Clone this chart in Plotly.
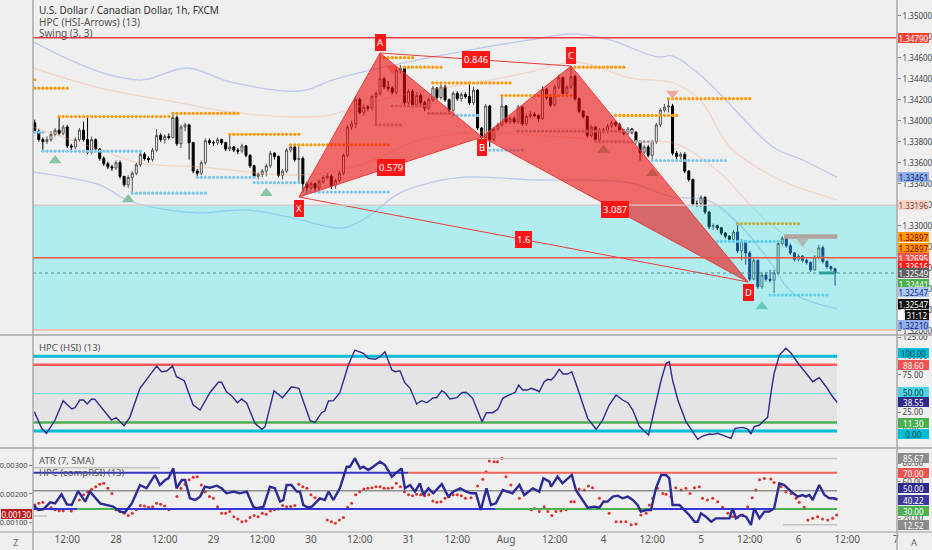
import plotly.graph_objects as go

FONT = "Noto Sans, Open Sans, sans-serif"
BG = "#efefef"

# ---------------- price data (1h bars, hour index, weekend removed) ----------------
bar_hours = list(range(4, 202))
first_open = 1.3398
closes = [
    1.3390, 1.3382, 1.3380, 1.3382, 1.3387, 1.3391, 1.3388, 1.3394, 1.3376, 1.3375,
    1.3382, 1.3391, 1.3382, 1.3370, 1.3382, 1.3373, 1.3364, 1.3359, 1.3356, 1.3355,
    1.3360, 1.3347, 1.3339, 1.3346, 1.3350, 1.3358, 1.3368, 1.3364, 1.3363, 1.3372,
    1.3386, 1.3382, 1.3385, 1.3384, 1.3403, 1.3378, 1.3394, 1.3396, 1.3379, 1.3352,
    1.3350, 1.3360, 1.3381, 1.3379, 1.3379, 1.3382, 1.3379, 1.3373, 1.3375, 1.3372,
    1.3371, 1.3376, 1.3367, 1.3357, 1.3347, 1.3349, 1.3352, 1.3357, 1.3369, 1.3366,
    1.3348, 1.3352, 1.3372, 1.3375, 1.3363, 1.3364, 1.3340, 1.3336, 1.3340, 1.3336,
    1.3342, 1.3346, 1.3347, 1.3338, 1.3343, 1.3350, 1.3367, 1.3394, 1.3397, 1.3420,
    1.3408, 1.3413, 1.3412, 1.3423, 1.3426, 1.3440, 1.3432, 1.3431, 1.3427, 1.3448,
    1.3450, 1.3417, 1.3428, 1.3415, 1.3424, 1.3417, 1.3412, 1.3420, 1.3431, 1.3422,
    1.3432, 1.3420, 1.3410, 1.3426, 1.3421, 1.3425, 1.3423, 1.3417, 1.3429, 1.3393,
    1.3384, 1.3414, 1.3382, 1.3392, 1.3396, 1.3414, 1.3399, 1.3402, 1.3399, 1.3413,
    1.3397, 1.3404, 1.3406, 1.3405, 1.3402, 1.3430, 1.3422, 1.3415, 1.3432, 1.3441,
    1.3426, 1.3432, 1.3442, 1.3421, 1.3409, 1.3404, 1.3386, 1.3394, 1.3382, 1.3391,
    1.3390, 1.3395, 1.3398, 1.3396, 1.3391, 1.3388, 1.3392, 1.3389, 1.3380, 1.3370,
    1.3375, 1.3367, 1.3380, 1.3396, 1.3410, 1.3413, 1.3414, 1.3369, 1.3366, 1.3368,
    1.3352, 1.3344, 1.3321, 1.3321, 1.3327, 1.3313, 1.3299, 1.3300, 1.3298, 1.3293,
    1.3290, 1.3287, 1.3294, 1.3276, 1.3285, 1.3274, 1.3249, 1.3267, 1.3242, 1.3253,
    1.3249, 1.3248, 1.3255, 1.3283, 1.3288, 1.3281, 1.3274, 1.3268, 1.3271, 1.3267,
    1.3265, 1.3258, 1.3270, 1.3279, 1.3266, 1.3261, 1.3259, 1.32549,
]
highs = [
    1.3401, 1.3392, 1.3384, 1.3385, 1.3390, 1.3393, 1.3404, 1.3396, 1.3396, 1.3378,
    1.3384, 1.3393, 1.3399, 1.3404, 1.3385, 1.3383, 1.3374, 1.3366, 1.3361, 1.3358,
    1.3362, 1.3362, 1.3346, 1.3348, 1.3352, 1.3360, 1.3371, 1.3370, 1.3366, 1.3374,
    1.3392, 1.3388, 1.3387, 1.3388, 1.3408, 1.3405, 1.3396, 1.3398, 1.3397, 1.3380,
    1.3354, 1.3362, 1.3383, 1.3383, 1.3381, 1.3384, 1.3383, 1.3380, 1.3388, 1.3376,
    1.3374, 1.3378, 1.3377, 1.3368, 1.3358, 1.3351, 1.3354, 1.3359, 1.3371, 1.3370,
    1.3367, 1.3354, 1.3374, 1.3377, 1.3376, 1.3377, 1.3366, 1.3342, 1.3342, 1.3341,
    1.3344, 1.3348, 1.3350, 1.3349, 1.3345, 1.3352, 1.3369, 1.3396, 1.3400, 1.3423,
    1.3422, 1.3416, 1.3415, 1.3425, 1.3428, 1.3463, 1.3442, 1.3438, 1.3433, 1.3450,
    1.3453, 1.3451, 1.3430, 1.3430, 1.3427, 1.3426, 1.3419, 1.3422, 1.3433, 1.3432,
    1.3435, 1.3434, 1.3421, 1.3428, 1.3428, 1.3427, 1.3427, 1.3436, 1.3432, 1.3430,
    1.3394, 1.3416, 1.3415, 1.3394, 1.3398, 1.3424, 1.3415, 1.3404, 1.3404, 1.3415,
    1.3414, 1.3406, 1.3409, 1.3408, 1.3406, 1.3433, 1.3431, 1.3423, 1.3434, 1.3444,
    1.3442, 1.3434, 1.3452, 1.3444, 1.3422, 1.3410, 1.3405, 1.3396, 1.3395, 1.3393,
    1.3393, 1.3397, 1.3400, 1.3400, 1.3398, 1.3392, 1.3394, 1.3393, 1.3390, 1.3381,
    1.3377, 1.3377, 1.3382, 1.3398, 1.3412, 1.3416, 1.3421, 1.3416, 1.3371, 1.3370,
    1.3370, 1.3353, 1.3345, 1.3324, 1.3329, 1.3328, 1.3314, 1.3302, 1.3301, 1.3299,
    1.3294, 1.3291, 1.3296, 1.3301, 1.3287, 1.3286, 1.3276, 1.3270, 1.3268, 1.3256,
    1.3256, 1.3258, 1.3258, 1.3285, 1.3290, 1.3290, 1.3283, 1.3275, 1.3273, 1.3272,
    1.3269, 1.3266, 1.3272, 1.3282, 1.3281, 1.3267, 1.3262, 1.3260,
]
lows = [
    1.3388, 1.3380, 1.3372, 1.3378, 1.3380, 1.3385, 1.3386, 1.3386, 1.3374, 1.3372,
    1.3373, 1.3380, 1.3380, 1.3368, 1.3368, 1.3370, 1.3362, 1.3357, 1.3354, 1.3352,
    1.3353, 1.3345, 1.3337, 1.3336, 1.3331, 1.3348, 1.3356, 1.3362, 1.3360, 1.3361,
    1.3370, 1.3380, 1.3378, 1.3382, 1.3383, 1.3376, 1.3374, 1.3390, 1.3363, 1.3350,
    1.3346, 1.3348, 1.3358, 1.3377, 1.3376, 1.3377, 1.3377, 1.3371, 1.3371, 1.3370,
    1.3368, 1.3369, 1.3365, 1.3355, 1.3345, 1.3344, 1.3346, 1.3347, 1.3355, 1.3363,
    1.3346, 1.3344, 1.3350, 1.3370, 1.3361, 1.3340, 1.3332, 1.3332, 1.3334, 1.3333,
    1.3334, 1.3340, 1.3344, 1.3335, 1.3335, 1.3341, 1.3348, 1.3365, 1.3391, 1.3393,
    1.3406, 1.3405, 1.3409, 1.3410, 1.3396, 1.3424, 1.3430, 1.3428, 1.3425, 1.3425,
    1.3445, 1.3414, 1.3415, 1.3413, 1.3413, 1.3414, 1.3409, 1.3410, 1.3418, 1.3420,
    1.3420, 1.3418, 1.3408, 1.3408, 1.3419, 1.3418, 1.3421, 1.3415, 1.3415, 1.3391,
    1.3381, 1.3383, 1.3375, 1.3380, 1.3390, 1.3394, 1.3397, 1.3397, 1.3397, 1.3397,
    1.3395, 1.3395, 1.3402, 1.3403, 1.3399, 1.3401, 1.3420, 1.3413, 1.3413, 1.3430,
    1.3424, 1.3424, 1.3430, 1.3419, 1.3407, 1.3402, 1.3384, 1.3384, 1.3380, 1.3380,
    1.3388, 1.3388, 1.3393, 1.3394, 1.3389, 1.3386, 1.3386, 1.3387, 1.3378, 1.3362,
    1.3368, 1.3365, 1.3363, 1.3378, 1.3394, 1.3408, 1.3408, 1.3367, 1.3363, 1.3362,
    1.3350, 1.3342, 1.3319, 1.3318, 1.3318, 1.3311, 1.3297, 1.3296, 1.3296, 1.3291,
    1.3288, 1.3285, 1.3286, 1.3274, 1.3267, 1.3263, 1.3247, 1.3248, 1.3240, 1.3240,
    1.3247, 1.3246, 1.3236, 1.3253, 1.3281, 1.3279, 1.3272, 1.3266, 1.3266, 1.3265,
    1.3263, 1.3256, 1.3257, 1.3268, 1.3264, 1.3259, 1.3257, 1.3243,
]
opens = [first_open] + closes[:-1]
highs = [max(h, o, c) for h, o, c in zip(highs, opens, closes)]
lows = [min(l, o, c) for l, o, c in zip(lows, opens, closes)]

# bands (read at sample hours)
band_up_h = [3.6, 12.7, 22.5, 30.6, 41.5, 52.1, 69.3, 77.4, 89.0, 102.0, 113.6, 125.9, 136.5, 145.6, 157.2, 161.1, 167.8, 173.4, 185.7, 193.1, 201.5]
band_up_p = [1.34750, 1.34578, 1.34435, 1.34388, 1.34502, 1.34369, 1.34283, 1.34388, 1.34502, 1.34607, 1.34692, 1.34769, 1.34826, 1.34769, 1.34607, 1.34616, 1.34435, 1.34226, 1.33750, 1.33626, 1.33461]
band_lo_h = [3.6, 20.1, 26.7, 36.6, 44.7, 56.2, 67.6, 79.9, 85.8, 93.9, 104.5, 111.9, 126.6, 136.5, 150.5, 161.1, 169.5, 177.6, 185.0, 190.6, 201.5]
band_lo_p = [1.33511, 1.33387, 1.33245, 1.33150, 1.33121, 1.33150, 1.33073, 1.32978, 1.33083, 1.33312, 1.33436, 1.33465, 1.33436, 1.33436, 1.33407, 1.33273, 1.33245, 1.33007, 1.32654, 1.32359, 1.32210]
inner_up_h = [3.6, 20.1, 39.8, 52.1, 69.3, 76.7, 89.0, 101.3, 113.6, 125.9, 137.5, 150.5, 161.1, 167.8, 175.1, 185.0, 191.6, 201.5]
inner_up_p = [1.34502, 1.34311, 1.34169, 1.34083, 1.34035, 1.34054, 1.34197, 1.34292, 1.34369, 1.34464, 1.34559, 1.34407, 1.34359, 1.34197, 1.33750, 1.33483, 1.33369, 1.33245]
inner_lo_h = [3.6, 20.1, 29.9, 44.7, 69.3, 84.1, 98.8, 113.6, 125.9, 138.2, 150.5, 161.1, 172.7, 182.5, 192.4, 201.5]
inner_lo_p = [1.33940, 1.33721, 1.33597, 1.33559, 1.33483, 1.33578, 1.33816, 1.33892, 1.33864, 1.33835, 1.33788, 1.33788, 1.33502, 1.33102, 1.32817, 1.32654]

# swing levels
res_start = [4, 10, 38, 52, 67, 90, 95, 102, 119, 137, 147, 160, 177]
res_end = [12, 37, 54, 69, 91, 97, 104, 121, 136, 149, 162, 180, 192]
res_price = [1.3431, 1.3404, 1.3407, 1.3387, 1.3377, 1.3460, 1.3451, 1.3436, 1.3424, 1.3451, 1.3405, 1.3421, 1.3302]
sup_start = [4, 6, 28, 44, 58, 71, 107, 115, 156, 172, 185]
sup_end = [6, 30, 46, 58, 69, 91, 113, 124, 174, 187, 199]
sup_price = [1.3389, 1.3371, 1.3331, 1.3346, 1.3341, 1.3332, 1.3405, 1.3372, 1.3362, 1.3285, 1.3234]
mid_start = [88, 92, 101, 123, 142]
mid_end = [94, 101, 107, 151, 156]
mid_price = [1.3396, 1.3414, 1.3407, 1.3390, 1.3380]
last_res = (189, 201, 1.32897)

tri_up_h = [9, 27, 61, 144, 156, 183]
tri_up_p = [1.3362, 1.3325, 1.3331, 1.3372, 1.3350, 1.3223]
tri_dn_h = [92, 161, 193]
tri_dn_p = [1.3450, 1.3426, 1.3285]

# harmonic pattern
patt_names = ["X", "A", "B", "C", "D"]
patt_h = [69.05, 89.0, 114.1, 136.0, 179.6]
patt_p = [1.33273, 1.34645, 1.33845, 1.34521, 1.32464]
ratio_text = {"XB": "0.579", "AC": "0.846", "BD": "3.087", "XD": "1.6"}

zone_top, zone_bottom = 1.33196, 1.32007
line_red_top, line_red_mid, last_price = 1.34790, 1.32695, 1.32549

# ---------------- HSI ----------------
hsi_hours = [3.9, 5.7, 6.9, 9.0, 11.0, 13.1, 13.9, 15.1, 16.0, 16.9, 18.0, 18.8, 22.9, 24.0, 26.0, 27.4, 29.9, 31.6, 32.8, 34.0,
             35.2, 36.5, 37.9, 38.9, 40.8, 43.0, 44.7, 47.1, 49.2, 50.0, 51.2, 52.5, 53.9, 54.9, 56.2, 58.2, 59.9, 60.7, 62.9, 65.0,
             67.2, 69.0, 71.8, 73.0, 74.6, 75.4, 76.3, 77.5, 79.1, 81.2, 82.8, 84.9, 86.1, 87.8, 89.0, 90.2, 91.9, 92.7, 93.9, 95.1,
             96.4, 98.0, 99.2, 100.5, 102.1, 102.9, 104.2, 105.0, 106.2, 107.9, 109.1, 110.2,
             111.8, 114.1, 115.2, 116.7, 118.0, 119.2, 120.4, 121.6, 122.3, 123.1, 124.1, 125.3, 126.2, 127.4, 128.2, 129.4, 130.3, 131.1,
             131.9, 133.1, 134.1, 135.2, 136.2, 137.2, 138.5, 140.1, 142.2, 143.8, 145.4, 147.1, 148.7, 150.0, 151.2, 152.8, 154.0, 155.1,
             156.5, 158.2, 159.4, 160.2, 161.0, 162.3, 164.3, 166.0, 167.2, 168.4, 170.1, 170.9, 172.1, 173.3, 175.4, 176.4, 178.3, 179.5,
             180.3, 181.1, 182.4, 183.2, 184.4, 185.2, 186.0, 187.3, 188.9, 190.2, 192.2, 193.8, 195.5, 197.1, 198.8, 200.4, 201.5]
hsi_values = [25.8, 3.6, -3.1, 14.7, 40.6, 29.5, 31.2, 41.5, 41.5, 36.1, 42.8, 42.4, 14.7, 17.8, 7.1, 18.3, 57.2, 69.2, 77.2, 87.0,
              79.4, 80.3, 87.0, 72.7, 67.3, 34.8, 28.1, 51.3, 65.2, 65.2, 52.6, 46.9, 37.9, 42.8, 37.1, 10.3, 2.3, 5.8, 54.0, 44.6,
              59.3, 57.2, 13.8, 11.6, 24.5, 26.8, 40.2, 40.6, 51.3, 88.4, 108.4, 104.0, 97.3, 96.0, 99.5, 106.2, 81.7, 79.4, 80.7, 64.7,
              57.2, 36.1, 40.6, 37.9, 44.6, 44.6, 54.0, 51.3, 42.8, 44.6, 51.3, 51.8,
              43.8, 12.5, 24.5, 24.5, 29.0, 43.8, 47.3, 50.5, 51.8, 61.6, 54.9, 54.9, 57.2, 54.9, 52.6, 66.0, 69.2, 68.3,
              72.7, 82.6, 76.3, 76.3, 79.4, 63.9, 43.8, 17.0, 2.3, 14.7, 34.8, 48.2, 41.5, 37.9, 28.1, 6.7, 0.0, -5.4,
              28.1, 68.3, 90.6, 92.8, 68.3, 41.5, 12.5, -0.9, -11.2, -6.7, -4.0, -4.5, -3.1, -5.4, -9.8, 3.6, 4.9, 2.7,
              -4.0, 5.8, 8.0, 12.5, 18.3, 50.5, 77.2, 101.7, 110.7, 104.0, 88.4, 78.0, 66.0, 71.4, 59.3, 45.9, 38.55]
hsi_levels = {"top": 100.0, "ob": 88.6, "mid": 50.0, "os": 11.3, "bottom": 0.0}

# ---------------- compRSI + ATR ----------------
rsi_hours = [3.65, 4.9, 6.1, 7.8, 9.0, 10.6, 11.9, 13.1, 14.7, 16.4, 17.6, 20.1, 23.3, 25.0, 26.2, 27.9, 29.9, 31.5, 33.6, 34.8,
             36.1, 36.9, 38.1, 38.9, 40.2, 41.0, 42.2, 43.5, 44.7, 45.9, 47.1, 48.8, 50.0, 51.2, 52.9, 54.5, 56.2, 57.8, 58.6, 60.3,
             61.9, 63.1, 64.4, 65.2, 66.0, 67.2, 68.5, 69.3, 70.1, 71.3, 72.2, 74.2, 75.4, 76.3, 77.5, 79.1, 80.8, 81.6, 82.8, 84.1,
             84.9, 86.1, 87.3, 89.0, 90.2, 91.9, 93.1, 94.3, 95.1, 96.4, 97.6, 98.8, 99.7, 100.9, 102.1, 104.2, 105.8, 107.0, 108.7, 110.2,
             111.4, 112.6, 113.8, 115.2, 116.3, 117.5, 119.2, 120.4, 121.6, 123.3, 124.5, 126.6, 128.2, 129.2, 130.7, 131.1, 132.7, 133.9, 136.2, 137.2,
             138.5, 140.1, 141.7, 143.0, 144.0, 145.0, 146.3, 147.5, 148.7, 150.0, 151.2, 152.4, 153.2, 154.5, 155.7, 156.9, 158.2, 159.4, 160.2, 161.0,
             162.7, 163.9, 165.1, 166.4, 167.2, 168.0, 169.2, 170.5, 171.7, 173.3, 175.0, 175.8, 176.6, 177.8, 179.1, 180.3, 181.1, 182.4, 183.6, 184.8,
             186.0, 187.3, 188.5, 190.2, 191.8, 193.0, 193.8, 194.7, 195.5, 197.1, 198.4, 199.6, 200.8, 201.6]
rsi_values = [34.4, 28.9, 29.6, 37.3, 36.2, 46.2, 35.1, 34.4, 49.8, 38.1, 49.1, 36.2, 32.6, 27.1, 26.3, 36.2, 56.4, 52.8, 67.5, 56.4,
              61.9, 63.8, 74.8, 52.8, 61.9, 61.9, 41.8, 39.9, 43.6, 54.6, 53.5, 55.7, 52.8, 47.3, 49.1, 47.3, 49.1, 32.6, 30.7, 32.6,
              54.6, 52.8, 38.1, 39.9, 56.4, 56.4, 49.1, 49.1, 34.4, 31.5, 32.6, 41.8, 39.9, 49.1, 39.9, 52.8, 76.6, 76.6, 85.8, 74.8,
              76.6, 73.0, 76.6, 82.2, 78.5, 65.6, 70.4, 74.8, 52.8, 56.4, 49.1, 58.3, 45.4, 52.8, 47.3, 57.5, 43.6, 49.1, 52.8, 49.1,
              47.3, 47.3, 28.9, 52.8, 34.4, 36.2, 50.9, 49.1, 47.3, 56.4, 45.4, 52.8, 49.1, 63.8, 60.1, 54.6, 65.6, 58.3, 67.5, 50.9,
              41.8, 31.5, 32.6, 31.5, 38.1, 38.1, 43.6, 44.7, 41.8, 43.6, 39.9, 34.4, 27.1, 28.9, 28.9, 52.8, 67.5, 67.5, 63.8, 34.4,
              34.4, 28.9, 23.4, 16.0, 16.0, 25.2, 21.5, 16.0, 19.7, 19.7, 19.7, 30.7, 19.7, 23.4, 21.5, 12.4, 30.7, 19.7, 27.1, 27.1,
              30.7, 58.3, 56.4, 49.1, 43.6, 45.4, 43.6, 45.4, 39.9, 56.4, 45.4, 41.8, 41.8, 40.22]
atr_hours = [4, 5, 6, 8, 9, 10, 11, 13,
             15, 16, 17, 18, 19, 20, 21, 22, 23,
             24, 25, 26, 27, 28,
             29, 30, 31, 32, 33,
             34, 35, 36, 37,
             39, 40, 41, 42, 43, 44,
             45, 46, 47, 48, 49,
             50, 51, 52, 53, 54, 55, 56,
             57, 58, 59, 60, 61, 62, 63, 64,
             65, 66, 67, 68,
             69, 70, 71, 72, 73, 74,
             76, 77, 78, 79, 80,
             81, 82, 83, 84, 85, 86, 87, 88,
             89, 90, 91, 92, 93, 94,
             95, 96, 97, 98, 99, 100, 101,
             102, 103, 104, 105, 106, 107, 108, 109, 110,
             111.4, 113.0, 114.3, 115.1, 115.9, 117.1, 117.9, 119.0, 120.0, 121.2,
             123.3, 126.2, 127.0, 128.2, 129.4, 130.3, 131.3, 132.3, 133.5, 134.8,
             136.0, 136.8, 138.0, 139.3, 140.3, 141.3, 143.0, 144.2, 145.4, 147.1,
             148.3, 149.5, 150.8, 152.0, 153.2, 154.5, 155.3, 156.1, 157.3, 158.6,
             159.4, 160.6, 161.8, 163.1, 164.3, 165.3, 166.4, 167.6, 168.4, 169.6,
             170.9, 172.1, 173.3, 174.6, 175.8, 177.0, 178.3, 179.5, 180.6, 181.5,
             182.4, 183.6, 185.2, 186.0, 187.7, 188.9, 190.2, 191.4, 192.2, 193.4,
             194.3, 195.5, 196.7, 197.9, 199.2, 200.4, 201.4]
atr_values = [.00161, .00167, .00171, .00152, .00144, .00141, .00141, .00140,
              .00179, .00197, .00208, .00217, .00226, .00234, .00238, .00220, .00202,
              .00144, .00138, .00132, .00124, .00132,
              .00144, .00159, .00158, .00153, .00155,
              .00167, .00164, .00158, .00144,
              .00191, .00220, .00234, .00250, .00259, .00261,
              .00232, .00208, .00191, .00185, .00155,
              .00132, .00132, .00138, .00120, .00112, .00102, .00105,
              .00117, .00124, .00120, .00132, .00128, .00140, .00144, .00147,
              .00159, .00155, .00156, .00159,
              .00234, .00226, .00220, .00197, .00187, .00182,
              .00108, .00102, .00097, .00108, .00117,
              .00153, .00167, .00197, .00208, .00218, .00220, .00222, .00226,
              .00226, .00220, .00220, .00222, .00238, .00226,
              .00208, .00197, .00194, .00199, .00197, .00194, .00197,
              .00175, .00171, .00173, .00185, .00191, .00197, .00197, .00194, .00185,
              .00187, .00228, .00252, .00279, .00317, .00314, .00314, .00326, .00261, .00232,
              .00185, .00144, .00149, .00138, .00155, .00138, .00124, .00138, .00141, .00144,
              .00173, .00173, .00218, .00214, .00228, .00222, .00185, .00173, .00132, .00102,
              .00102, .00102, .00091, .00094, .00126, .00132, .00161, .00185, .00220, .00202,
              .00199, .00191, .00222, .00214, .00220, .00202, .00222, .00226, .00185, .00179,
              .00185, .00173, .00153, .00132, .00120, .00117, .00126, .00155, .00187, .00214,
              .00250, .00255, .00253, .00241, .00226, .00208, .00202, .00185, .00171, .00153,
              .00108, .00114, .00120, .00112, .00108, .00114, .00126]
rsi_levels = {"hi_band": 85.67, "ob": 70.0, "mid": 50.0, "os": 30.0, "lo_band": 12.52}

tick_hours = [12, 24, 36, 48, 60, 72, 84, 96, 108, 120, 132, 144, 156, 168, 180, 192, 204, 216]
tick_text = ["12:00", "28", "12:00", "29", "12:00", "30", "12:00", "31", "12:00", "Aug",
             "12:00", "4", "12:00", "5", "12:00", "6", "12:00", "7"]

# ---------------- layout constants ----------------
X_MIN, X_MAX = 3.57, 216.25
LINE_END = 201.5

fig = go.Figure()

def hline(x0, x1, y, color, width, yaxis="y", dash="solid"):
    fig.add_trace(go.Scatter(x=[x0, x1], y=[y, y], mode="lines", yaxis=yaxis,
                             line=dict(color=color, width=width, dash=dash),
                             hoverinfo="skip", showlegend=False))

# bands
for hx, py, col in [(band_up_h, band_up_p, "rgba(120,140,235,0.40)"),
                    (band_lo_h, band_lo_p, "rgba(120,140,235,0.40)"),
                    (inner_up_h, inner_up_p, "rgba(250,170,130,0.35)"),
                    (inner_lo_h, inner_lo_p, "rgba(250,170,130,0.35)")]:
    fig.add_trace(go.Scatter(x=hx, y=py, mode="lines", line=dict(color=col, width=1.3, shape="spline"),
                             hoverinfo="skip", showlegend=False))

# candles
split = bar_hours.index(177)
for sl, dec_col in [(slice(0, split), "#000000"), (slice(split, None), "#1c1c6e")]:
    fig.add_trace(go.Candlestick(
        x=bar_hours[sl], open=opens[sl], high=highs[sl], low=lows[sl], close=closes[sl],
        increasing=dict(line=dict(color="#505050", width=1), fillcolor="#ffffff"),
        decreasing=dict(line=dict(color=dec_col, width=1), fillcolor=dec_col),
        whiskerwidth=0, showlegend=False, hoverinfo="skip"))

# swing dotted levels
def dotted(starts, ends, prices, color, size=3.2, symbol="circle"):
    xs, ys = [], []
    for s, e, p in zip(starts, ends, prices):
        xs += list(range(s, e + 1)) + [None]
        ys += [p] * (e - s + 1) + [None]
    fig.add_trace(go.Scatter(x=xs, y=ys, mode="markers",
                             marker=dict(color=color, size=size, symbol=symbol, line=dict(width=0)),
                             hoverinfo="skip", showlegend=False))

dotted(res_start, res_end, res_price, "#ff9800")
dotted([4], [4], [1.3439], "#ff9800")
dotted(sup_start, sup_end, sup_price, "#7cc6ee")
dotted(mid_start, mid_end, mid_price, "#a9a9a9")
dotted([last_res[0]], [last_res[1]], [last_res[2]], "#f28b82", size=4.5, symbol="square")

# triangles
fig.add_trace(go.Scatter(x=tri_up_h, y=tri_up_p, mode="markers",
                         marker=dict(symbol="triangle-up", size=11, color="#86c4a2", line=dict(width=0)),
                         hoverinfo="skip", showlegend=False))
fig.add_trace(go.Scatter(x=tri_dn_h, y=tri_dn_p, mode="markers",
                         marker=dict(symbol="triangle-down", size=11, color="#f4a79e", line=dict(width=0)),
                         hoverinfo="skip", showlegend=False))

# cyan zone
fig.add_trace(go.Scatter(x=[X_MIN, X_MAX, X_MAX, X_MIN, X_MIN],
                         y=[zone_top, zone_top, zone_bottom, zone_bottom, zone_top],
                         mode="lines", fill="toself", fillcolor="rgba(0,232,238,0.26)",
                         line=dict(width=0), hoverinfo="skip", showlegend=False))

# harmonic pattern
P = {n: (h, p) for n, h, p in zip(patt_names, patt_h, patt_p)}
RED_FILL = "rgba(240,8,8,0.58)"
RED_LINE = "#f03a3a"
for tri in (("X", "A", "B"), ("B", "C", "D")):
    pts = [P[t] for t in tri] + [P[tri[0]]]
    fig.add_trace(go.Scatter(x=[q[0] for q in pts], y=[q[1] for q in pts], mode="lines",
                             fill="toself", fillcolor=RED_FILL, line=dict(color=RED_LINE, width=1),
                             hoverinfo="skip", showlegend=False))
for a, b in (("A", "C"), ("X", "D")):
    fig.add_trace(go.Scatter(x=[P[a][0], P[b][0]], y=[P[a][1], P[b][1]], mode="lines",
                             line=dict(color=RED_LINE, width=1), hoverinfo="skip", showlegend=False))

# last price teal stub
hline(197, 201, 1.3255, "#26a69a", 3)

# ---------------- HSI pane ----------------
fig.add_trace(go.Scatter(x=[X_MIN, LINE_END, LINE_END, X_MIN, X_MIN],
                         y=[hsi_levels["os"], hsi_levels["os"], hsi_levels["ob"], hsi_levels["ob"], hsi_levels["os"]],
                         yaxis="y2", mode="lines", fill="toself", fillcolor="rgba(0,0,0,0.045)",
                         line=dict(width=0), hoverinfo="skip", showlegend=False))
hline(X_MIN, LINE_END, hsi_levels["mid"], "#6fd3e6", 1, "y2")
hline(X_MIN, LINE_END, hsi_levels["top"], "#00bcd4", 3, "y2")
hline(X_MIN, LINE_END, hsi_levels["bottom"], "#00bcd4", 3, "y2")
hline(X_MIN, LINE_END, hsi_levels["ob"], "#ff5a5a", 2.5, "y2")
hline(X_MIN, LINE_END, hsi_levels["os"], "#4caf50", 2.5, "y2")
fig.add_trace(go.Scatter(x=hsi_hours, y=hsi_values, yaxis="y2", mode="lines",
                         line=dict(color="#2e2a8c", width=1.4), hoverinfo="skip", showlegend=False))

# ---------------- ATR / compRSI pane ----------------
fig.add_trace(go.Scatter(x=atr_hours, y=atr_values, yaxis="y3", mode="markers",
                         marker=dict(color="#e0302a", size=3), hoverinfo="skip", showlegend=False))
hline(X_MIN, 34.8, 75.5, "#c4c4c4", 1.5, "y4")
hline(X_MIN, 7, 22.3, "#c4c4c4", 1.5, "y4")
hline(93.9, LINE_END, rsi_levels["hi_band"], "#c4c4c4", 1.5, "y4")
hline(188.2, LINE_END, rsi_levels["lo_band"], "#c4c4c4", 1.5, "y4")
hline(X_MIN, LINE_END, rsi_levels["mid"], "#606060", 1, "y4")
hline(X_MIN, 95.9, rsi_levels["ob"], "#3535c8", 2, "y4")
hline(95.9, LINE_END, rsi_levels["ob"], "#f26060", 2, "y4")
for x0, x1, col in [(X_MIN, 14.4, "#3535d8"), (14.4, 23.8, "#4caf50"), (23.8, 117.5, "#3535d8"),
                    (117.5, 156.2, "#4caf50"), (156.2, 186.0, "#3535d8"), (186.0, LINE_END, "#4caf50")]:
    hline(x0, x1, rsi_levels["os"], col, 1.8, "y4")
fig.add_trace(go.Scatter(x=rsi_hours, y=rsi_values, yaxis="y4", mode="lines",
                         line=dict(color="#2b2a96", width=2.4), hoverinfo="skip", showlegend=False))

# ---------------- annotations ----------------
ann = []
def txt(x, y, text, color="#555", size=10, xref="paper", yref="paper", xanchor="left", **kw):
    ann.append(dict(x=x, y=y, xref=xref, yref=yref, text=text, showarrow=False, xanchor=xanchor,
                    yanchor="middle", font=dict(family=FONT, size=size, color=color), **kw))

txt(0.0046, 1 - 10 / 532, "U.S. Dollar / Canadian Dollar, 1h, FXCM", color="#333", size=10)
txt(0.0046, 1 - 22 / 532, "HPC (HSI-Arrows) (13)", size=10)
txt(0.0046, 1 - 33 / 532, "Swing (3, 3)", size=10)
txt(0.0046, 1 - 347 / 532, "HPC (HSI) (13)", size=9.5)
txt(0.0046, 1 - 460 / 532, "ATR (7, SMA)", size=9.5)
txt(0.0046, 1 - 472 / 532, "HPC (compRSI) (13)", size=9.5)
txt(-0.0197, -10 / 532, "Z", xanchor="center", size=9.5, color="#666")
txt(1.0208, -10 / 532, "A", xanchor="center", size=9.5, color="#666")

def tag(yref, y, text, bg, fg, yshift=0, xshift=1, width=31, left=False):
    ann.append(dict(xref="paper", x=0 if left else 1, xanchor="right" if left else "left",
                    xshift=-1 if left else xshift, yref=yref, y=y, yshift=yshift, text=text,
                    showarrow=False, bgcolor=bg, borderpad=0, borderwidth=0, width=width, height=10,
                    align="center", valign="middle", font=dict(family=FONT, size=8, color=fg)))

tag("y", line_red_top, "1.34790", "#f44336", "#ffffff")
tag("y", band_up_p[-1], "1.33461", "#8fb0ea", "#1a237e")
tag("y", zone_top, "1.33196", "#fbd3c6", "#6d4c41")
tag("y", last_res[2], "1.32897", "#ff9800", "#7f0000")
tag("y", last_res[2], "1.32897", "#ff9800", "#7f0000", yshift=-11)
tag("y", line_red_mid, "1.32695", "#ef5350", "#ffffff")
tag("y", 1.32616, "1.32616", "#ff1a1a", "#ffffff")
tag("y", last_price, "1.32549", "#5d5d5d", "#ffffff")
tag("y", 1.32441, "1.32441", "#4caf50", "#ffffff")
tag("y", 1.32547, "1.32547", "#a9c7f3", "#1a237e", yshift=-19)
tag("y", 1.32547, "1.32547", "#111111", "#ffffff", yshift=-31)
tag("y", 1.32547, " ", "#ffffff", "#ffffff", yshift=-42, width=5)
tag("y", 1.32547, "31:12", "#111111", "#ffffff", yshift=-42, xshift=8, width=24)
tag("y", band_lo_p[-1], "1.32210", "#8fb0ea", "#1a237e", yshift=-16)

tag("y2", hsi_levels["top"], "100.00", "#00bcd4", "#073b4c", yshift=3)
tag("y2", hsi_levels["ob"], "88.60", "#ef5350", "#ffffff")
tag("y2", hsi_levels["mid"], "50.00", "#4dd0e1", "#073b4c", yshift=2)
tag("y2", hsi_values[-1], "38.55", "#2e2a8c", "#ffffff")
tag("y2", hsi_levels["os"], "11.30", "#4caf50", "#ffffff")
tag("y2", hsi_levels["bottom"], "0.00", "#00bcd4", "#073b4c", yshift=-3)

tag("y4", rsi_levels["hi_band"], "85.67", "#8c8c8c", "#ffffff")
tag("y4", rsi_levels["ob"], "70.00", "#ef5350", "#ffffff")
tag("y4", rsi_levels["mid"], "50.00", "#2e2a8c", "#ffffff", yshift=3)
tag("y4", rsi_values[-1], "40.22", "#3a3a9a", "#ffffff")
tag("y4", rsi_levels["os"], "30.00", "#4caf50", "#ffffff", yshift=-2)
tag("y4", rsi_levels["lo_band"], "12.52", "#8c8c8c", "#ffffff")
tag("y3", 0.0013, "0.00130", "#b71c1c", "#ffffff", left=True)

# pattern labels
def red_box(x, y, text, yshift=0):
    ann.append(dict(x=x, y=y, xref="x", yref="y", text=text, showarrow=False, yshift=yshift,
                    bgcolor="#ff1616", borderpad=2, borderwidth=0,
                    font=dict(family=FONT, size=9.5, color="#ffffff")))

for n in patt_names:
    h, p = P[n]
    red_box(h, p, n, yshift=10 if n in ("A", "C") else -11)
for key, label in ratio_text.items():
    a, b = P[key[0]], P[key[1]]
    red_box((a[0] + b[0]) / 2, (a[1] + b[1]) / 2, label)

# ---------------- shapes ----------------
shapes = []
def pline(x0, y0, x1, y1, color, width, xref="paper", yref="paper", dash="solid"):
    shapes.append(dict(type="line", x0=x0, y0=y0, x1=x1, y1=y1, xref=xref, yref=yref,
                       line=dict(color=color, width=width, dash=dash), layer="above"))

pline(0, line_red_top, 1, line_red_top, "#f23645", 1.6, yref="y")
pline(0, line_red_mid, 1, line_red_mid, "#ef5350", 1.6, yref="y")
pline(0, last_price, 1, last_price, "#4f8a8a", 1, yref="y", dash="dot")
pline(0, zone_top, 1, zone_top, "#dcc4c4", 1.2, yref="y")
pline(0, zone_bottom, 1, zone_bottom, "#f0a898", 1.2, yref="y")
for py in (335, 448):
    pline(-0.04, 1 - py / 532, 1.041, 1 - py / 532, "#b8b8b8", 2)
pline(-0.04, 0, 1.041, 0, "#b8b8b8", 1.5)
pline(0, -0.04, 0, 1, "#a8a8a8", 1.5)
pline(1, -0.04, 1, 1, "#a8a8a8", 1.5)

axis_font = dict(family=FONT, size=8, color="#444")
fig.update_layout(
    width=932, height=550, margin=dict(l=33, r=35, t=0, b=18, autoexpand=False),
    paper_bgcolor=BG, plot_bgcolor=BG, showlegend=False,
    font=dict(family=FONT),
    xaxis=dict(domain=[0, 1], anchor="y3", range=[X_MIN, X_MAX], tickvals=tick_hours, ticktext=tick_text,
               showgrid=False, zeroline=False, showline=False, ticks="", automargin=False,
               tickfont=dict(family=FONT, size=10, color="#555"), rangeslider=dict(visible=False)),
    yaxis=dict(domain=[1 - 334 / 532, 1], range=[1.319686, 1.351495], side="right", anchor="x",
               tickvals=[1.320 + 0.002 * i for i in range(16)], tickformat=".5f", automargin=False,
               ticks="outside", ticklen=3, tickcolor="#888", tickfont=axis_font,
               showgrid=False, zeroline=False, showline=False),
    yaxis2=dict(domain=[1 - 447 / 532, 1 - 336 / 532], range=[-21.4, 127.2], side="right", anchor="x",
                tickvals=[0, 25, 50, 75, 100, 125], tickformat=".2f", automargin=False,
                ticks="outside", ticklen=3, tickcolor="#888", tickfont=axis_font,
                showgrid=False, zeroline=False, showline=False),
    yaxis3=dict(domain=[0, 1 - 449 / 532], range=[0.000657, 0.00359], side="left", anchor="x",
                tickvals=[0.001, 0.002, 0.003], tickformat=".5f", automargin=False,
                ticks="outside", ticklen=3, tickcolor="#888", tickfont=dict(family=FONT, size=7.5, color="#444"),
                showgrid=False, zeroline=False, showline=False),
    yaxis4=dict(overlaying="y3", range=[4.66, 96.1], side="right", anchor="x",
                tickvals=[20, 40, 60, 80], tickformat=".2f", automargin=False,
                ticks="outside", ticklen=3, tickcolor="#888", tickfont=axis_font,
                showgrid=False, zeroline=False, showline=False),
    annotations=ann, shapes=shapes,
)

fig.write_html("out.html", config={"displayModeBar": False},
               post_script="document.body.style.margin='0px';document.body.style.padding='0px';"
                           "document.body.style.overflow='hidden';")
